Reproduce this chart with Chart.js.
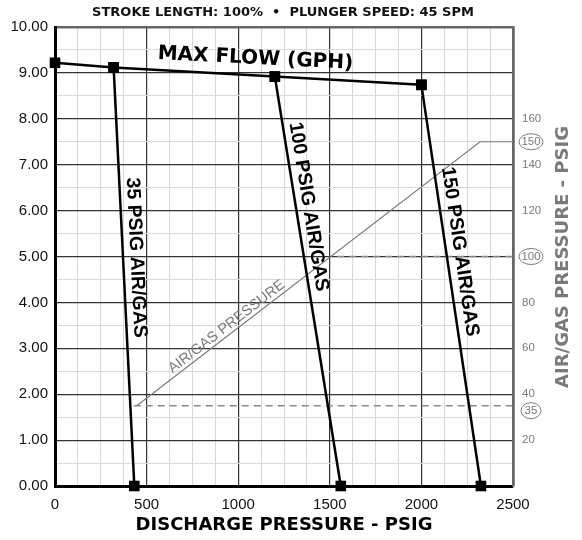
<!DOCTYPE html>
<html>
<head>
<meta charset="utf-8">
<title>Max flow vs discharge pressure</title>
<script src="https://cdn.jsdelivr.net/npm/chart.js@4.4.1/dist/chart.umd.min.js"></script>
<style>
    body { margin: 0; background: #fff; }
    #wrap { width: 582px; height: 540px; }
</style>
</head>
<body>
<div id="wrap"><canvas id="flowChart"></canvas></div>
<script>
// Values
const maxFlowX = [0, 320, 1200, 2000];
const maxFlowY = [9.22, 9.12, 8.92, 8.74];

const psi35X = [320, 433];
const psi35Y = [9.12, 0];
const psi100X = [1200, 1560];
const psi100Y = [8.92, 0];
const psi150X = [2000, 2325];
const psi150Y = [8.74, 0];

// air/gas pressure curve, on the right hand axis (psig)
const airGasX = [446, 2320, 2500];
const airGasPsi = [35, 150, 150];
const dash35X = [430, 2500];
const dash35Psi = [35, 35];
const dash100X = [1540, 2500];
const dash100Psi = [100, 100];

const xLabelTicks = [0, 500, 1000, 1500, 2000, 2500];
const rightTicks = [20, 40, 60, 80, 120, 140, 160];
const circledPsi = [35, 100, 150];

const topTitle = 'STROKE LENGTH: 100%  \u2022  PLUNGER SPEED: 45 SPM';

const pts = (xs, ys) => xs.map((x, i) => ({ x: x, y: ys[i] }));

function blackSeries(xs, ys) {
    return {
        data: pts(xs, ys),
        showLine: true,
        borderColor: '#000',
        borderWidth: 2.5,
        pointStyle: 'rect',
        pointRadius: 7.5,
        pointBackgroundColor: '#000',
        pointBorderWidth: 0,
        yAxisID: 'y',
        clip: false
    };
}

function graySeries(xs, ys, dash) {
    return {
        data: pts(xs, ys),
        showLine: true,
        borderColor: dash ? '#8a8a8a' : '#7a7a7a',
        borderWidth: dash ? 1.5 : 1.2,
        borderDash: dash ? [7, 5] : [],
        pointRadius: 0,
        yAxisID: 'y2'
    };
}

// Texts drawn on top of the plot
const labelsPlugin = {
    id: 'chartLabels',
    afterDraw(chart) {
        const { ctx, scales: { x, y, y2 } } = chart;
        ctx.save();
        ctx.textAlign = 'center';
        ctx.textBaseline = 'middle';

        ctx.fillStyle = '#111';
        ctx.font = 'bold 13px "DejaVu Sans"';
        ctx.fillText(topTitle, 283, 13);

        // MAX FLOW label follows the top line
        const mx0 = x.getPixelForValue(maxFlowX[0]), my0 = y.getPixelForValue(maxFlowY[0]);
        const mx1 = x.getPixelForValue(maxFlowX[3]), my1 = y.getPixelForValue(maxFlowY[3]);
        ctx.save();
        ctx.translate(x.getPixelForValue(1094), y.getPixelForValue(9.31));
        ctx.rotate(Math.atan2(my1 - my0, mx1 - mx0) * 0.85);
        ctx.font = 'bold 20px "DejaVu Sans"';
        ctx.fillStyle = '#000';
        ctx.fillText('MAX FLOW (GPH)', 0, 0);
        ctx.restore();

        // vertical labels next to each pressure line
        function lineLabel(text, xs, ys, t, off) {
            const x0 = x.getPixelForValue(xs[0]), y0 = y.getPixelForValue(ys[0]);
            const x1 = x.getPixelForValue(xs[1]), y1 = y.getPixelForValue(ys[1]);
            const ang = Math.atan2(y1 - y0, x1 - x0);
            const px = x0 + (x1 - x0) * t, py = y0 + (y1 - y0) * t;
            ctx.save();
            ctx.translate(px + Math.sin(ang) * off, py - Math.cos(ang) * off);
            ctx.rotate(ang);
            ctx.font = 'bold 19.5px "Liberation Sans"';
            ctx.fillStyle = '#000';
            ctx.fillText(text, 0, 0);
            ctx.restore();
        }
        lineLabel('35 PSIG AIR/GAS', psi35X, psi35Y, 0.456, 13);
        lineLabel('100 PSIG AIR/GAS', psi100X, psi100Y, 0.323, 12.5);
        lineLabel('150 PSIG AIR/GAS', psi150X, psi150Y, 0.421, 13.5);

        // AIR/GAS PRESSURE along the gray curve
        const ax0 = x.getPixelForValue(airGasX[0]), ay0 = y2.getPixelForValue(airGasPsi[0]);
        const ax1 = x.getPixelForValue(airGasX[1]), ay1 = y2.getPixelForValue(airGasPsi[1]);
        ctx.save();
        ctx.translate(x.getPixelForValue(937), y2.getPixelForValue(69.4));
        ctx.rotate(Math.atan2(ay1 - ay0, ax1 - ax0));
        ctx.font = '14.5px "Liberation Sans"';
        ctx.fillStyle = '#7a7a7a';
        ctx.fillText('AIR/GAS PRESSURE', 0, 0);
        ctx.restore();

        // right axis title, reading upwards
        ctx.save();
        ctx.translate(563, 257);
        ctx.rotate(-Math.PI / 2);
        ctx.font = 'bold 18px "DejaVu Sans"';
        ctx.fillStyle = '#7a7a7a';
        ctx.fillText('AIR/GAS PRESSURE - PSIG', 0, 0);
        ctx.restore();

        // circled pressures on the right axis
        ctx.font = '11.5px "Liberation Sans"';
        ctx.strokeStyle = '#7a7a7a';
        ctx.lineWidth = 1;
        circledPsi.forEach(v => {
            const cy = y2.getPixelForValue(v) + (v === 35 ? 5 : 0);
            ctx.fillStyle = '#7a7a7a';
            ctx.fillText(String(v), 531, cy + 0.5);
            ctx.beginPath();
            ctx.ellipse(531, cy, v < 100 ? 10 : 12, 8, 0, 0, Math.PI * 2);
            ctx.stroke();
        });
        ctx.restore();
    }
};

const ctx = document.getElementById('flowChart').getContext('2d');
new Chart(ctx, {
    type: 'scatter',
    data: {
        datasets: [
            blackSeries(maxFlowX, maxFlowY),
            blackSeries(psi35X, psi35Y),
            blackSeries(psi100X, psi100Y),
            blackSeries(psi150X, psi150Y),
            graySeries(airGasX, airGasPsi, false),
            graySeries(dash35X, dash35Psi, true),
            graySeries(dash100X, dash100Psi, true)
        ]
    },
    options: {
        responsive: true,
        maintainAspectRatio: false,
        animation: false,
        layout: { padding: { top: 27, left: 0, right: 0, bottom: 0 } },
        plugins: {
            legend: { display: false },
            tooltip: { enabled: false }
        },
        scales: {
            x: {
                type: 'linear',
                min: 0,
                max: 2500,
                afterFit: s => { s.height = 54; },
                ticks: {
                    stepSize: 125,
                    autoSkip: false,
                    maxRotation: 0,
                    padding: 10,
                    color: '#111',
                    font: { family: 'Liberation Sans', size: 15 },
                    callback: v => xLabelTicks.includes(v) ? String(v) : ''
                },
                grid: {
                    drawTicks: false,
                    color: c => c.tick.value === 2500 ? '#666' : (c.tick.value % 500 === 0 ? '#333' : '#d9d9d9'),
                    lineWidth: c => c.tick.value === 2500 ? 2.5 : (c.tick.value % 500 === 0 ? 1.2 : 1)
                },
                border: { color: '#000', width: 3 },
                title: {
                    display: true,
                    text: 'DISCHARGE PRESSURE - PSIG',
                    color: '#000',
                    font: { family: 'DejaVu Sans', size: 18, weight: 'bold' },
                    padding: { top: 0, bottom: 4 }
                }
            },
            y: {
                type: 'linear',
                position: 'left',
                min: 0,
                max: 10,
                afterFit: s => { s.width = 55; },
                ticks: {
                    stepSize: 0.5,
                    autoSkip: false,
                    padding: 7,
                    color: '#111',
                    font: { family: 'Liberation Sans', size: 15 },
                    callback: v => Number.isInteger(v) ? v.toFixed(2) : ''
                },
                grid: {
                    drawTicks: false,
                    color: c => c.tick.value === 10 ? '#666' : (Number.isInteger(c.tick.value) ? '#333' : '#d9d9d9'),
                    lineWidth: c => c.tick.value === 10 ? 2.5 : (Number.isInteger(c.tick.value) ? 1.2 : 1)
                },
                border: { color: '#000', width: 3 }
            },
            y2: {
                type: 'linear',
                position: 'right',
                min: 0,
                max: 200,
                afterFit: s => { s.width = 69; },
                afterBuildTicks: s => { s.ticks = rightTicks.map(v => ({ value: v })); },
                ticks: {
                    autoSkip: false,
                    padding: 9,
                    color: '#7a7a7a',
                    font: { family: 'Liberation Sans', size: 11.5 }
                },
                grid: { display: false, drawTicks: false },
                border: { color: '#666', width: 2.5 }
            }
        }
    },
    plugins: [labelsPlugin]
});
</script>
</body>
</html>
